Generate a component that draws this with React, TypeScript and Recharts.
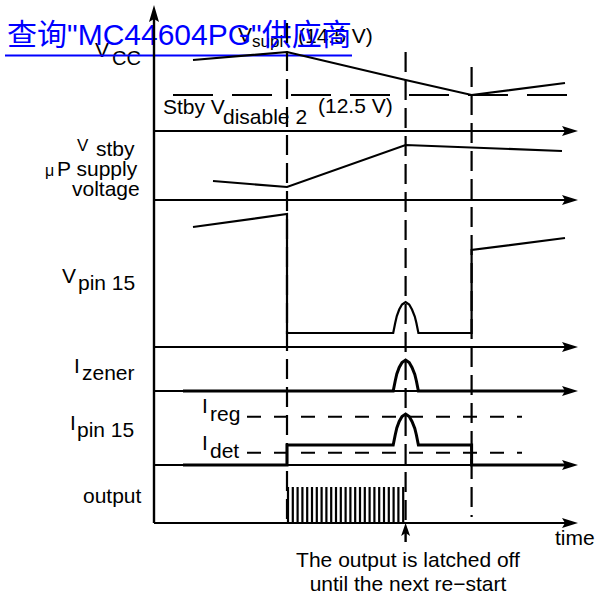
import React from "react";
import { ComposedChart, Line, XAxis, YAxis, ReferenceLine } from "recharts";

// time in arbitrary units, 0 = vertical axis
const eventTimes = [33.25, 62.9, 79.4]; // supply drop, latch-off, re-start
const dashTops = [100, 94.2, 91.2];
const dashBottoms = [0, 0, 1.2];

const rowNames = ["vcc", "vstby", "vpin", "izener", "ipin", "output"];

// VCC trace and stby threshold
const vccTimes = [9.75, 33.25, 62.9, 79.4, 102.75];
const vccLevels = [14.2, 15.8, 10.2, 7.2, 9.6];
const stbyLevel = 7.2;
const stbySpan = [4.75, 103.5];

// uP supply voltage
const vstbyTimes = [14.75, 33.25, 62.9, 102];
const vstbyLevels = [3.8, 2.6, 11, 9.8];

// pin 15 voltage (before / after the pulse)
const vpinTimesA = [9.75, 33.25, 33.25];
const vpinLevelsA = [24, 26.6, 2.8];
const vpinTimesB = [79.4, 79.4, 102.75];
const vpinLevelsB = [2.8, 19.4, 21.8];

// zener current
const izTimesA = [7.25];
const izLevelsA = [0];
const izTimesB = [103];
const izLevelsB = [0];

// pin 15 current
const ipTimesA = [7.25, 33.25, 33.25];
const ipLevelsA = [0, 0, 4];
const ipTimesB = [79.4, 79.4, 103];
const ipLevelsB = [4, 0, 0];
const iregLevel = 9.66;
const idetLevel = 2.46;
const iSpan = [23.25, 92];

// shape of the current pulse around the latch time
const pulseDt = [-3.1, -2.6, -2.2, -1.6, -0.9, 0, 0.9, 1.6, 2.3, 2.7, 3.2];
const pulseDv = [0, 2.0, 3.4, 4.7, 5.7, 6.2, 5.7, 4.7, 3.3, 2.0, 0];

// output switching edges
const outTimes = [
  33.5, 34.7, 35.9, 37.1, 38.3, 39.5, 40.7, 41.9, 43.1, 44.3, 45.5, 46.7, 47.9,
  49.1, 50.3, 51.5, 52.7, 53.9, 55.1, 56.3, 57.5, 58.7, 59.9, 61.1, 62.3,
];
const outHigh = 7.2;

// layout: row baselines
const base: Record<string, number> = {
  vcc: 78.4,
  vstby: 64.6,
  vpin: 35.2,
  izener: 26.4,
  ipin: 11.6,
  output: 0,
};
const T_END = 106;
const Y_TOP = 103.6;

const pts = (times: number[], levels: number[], b: number) =>
  times.map((t, i) => ({ t, v: b + levels[i] }));
const pulse = (at: number, floor: number, b: number) =>
  pulseDt.map((d, i) => ({ t: at + d, v: b + floor + pulseDv[i] }));

const vccData = pts(vccTimes, vccLevels, base.vcc);
const vstbyData = pts(vstbyTimes, vstbyLevels, base.vstby);
const vpinData = [
  ...pts(vpinTimesA, vpinLevelsA, base.vpin),
  ...pulse(eventTimes[1], 2.8, base.vpin),
  ...pts(vpinTimesB, vpinLevelsB, base.vpin),
];
const izData = [
  ...pts(izTimesA, izLevelsA, base.izener),
  ...pulse(eventTimes[1], 0, base.izener),
  ...pts(izTimesB, izLevelsB, base.izener),
];
const ipData = [
  ...pts(ipTimesA, ipLevelsA, base.ipin),
  ...pulse(eventTimes[1], 4, base.ipin),
  ...pts(ipTimesB, ipLevelsB, base.ipin),
];
const outData = outTimes.flatMap((t) => [
  { t, v: base.output },
  { t, v: base.output + outHigh },
  { t, v: null },
]);

const FONT = "'Liberation Sans', Arial, sans-serif";

const arrow = (head: number, half: number, width: number) => (p: any) => {
  const { x1, y1, x2, y2 } = p;
  const dx = x2 - x1;
  const dy = y2 - y1;
  const len = Math.hypot(dx, dy) || 1;
  const ux = dx / len;
  const uy = dy / len;
  const bx = x2 - ux * head;
  const by = y2 - uy * head;
  const nx = -uy * half;
  const ny = ux * half;
  return (
    <g>
      <line x1={x1} y1={y1} x2={bx + ux * 3} y2={by + uy * 3} stroke="#000" strokeWidth={width} />
      <polygon
        points={`${x2},${y2} ${bx + nx},${by + ny} ${bx + ux * 3},${by + uy * 3} ${bx - nx},${by - ny}`}
        fill="#000"
      />
    </g>
  );
};

type Lbl = { s: string; x: number; y: number; size?: number; anchor?: string };
const labels: Lbl[] = [
  { s: "V", x: 95, y: 57 },
  { s: "CC", x: 112, y: 65, size: 20 },
  { s: "V", x: 238, y: 42 },
  { s: "supl", x: 252, y: 47, size: 17 },
  { s: "(14.5 V)", x: 298, y: 43 },
  { s: "Stby V", x: 163, y: 114 },
  { s: "disable 2", x: 223, y: 124 },
  { s: "(12.5 V)", x: 318, y: 113 },
  { s: "V", x: 77, y: 151, size: 17 },
  { s: "stby", x: 96, y: 156 },
  { s: "\u03bc", x: 45, y: 176, size: 16 },
  { s: "P supply", x: 57, y: 176 },
  { s: "voltage", x: 72, y: 196 },
  { s: "V", x: 62, y: 283 },
  { s: "pin 15", x: 78, y: 290 },
  { s: "I", x: 74, y: 373 },
  { s: "zener", x: 82, y: 380 },
  { s: "I", x: 70, y: 430 },
  { s: "pin 15", x: 77, y: 437 },
  { s: "I", x: 202, y: 413 },
  { s: "reg", x: 210, y: 421 },
  { s: "I", x: 202, y: 450 },
  { s: "det", x: 210, y: 458 },
  { s: "output", x: 83, y: 503 },
  { s: "time", x: 555, y: 545 },
  { s: "The output is latched off", x: 408, y: 567, anchor: "middle" },
  { s: "until the next re\u2212start", x: 408, y: 591, anchor: "middle" },
];

const lineProps = {
  dataKey: "v",
  type: "linear" as const,
  stroke: "#000",
  strokeWidth: 2.2,
  dot: false,
  activeDot: false,
  isAnimationActive: false,
  connectNulls: false,
};

export default function App() {
  return (
    <div style={{ position: "absolute", left: 0, top: 0, width: 596, height: 597, background: "#fff" }}>
      <ComposedChart width={596} height={597} margin={{ top: 0, right: 0, bottom: 0, left: 0 }}>
        <XAxis type="number" dataKey="t" domain={[-38.5, 110.5]} allowDataOverflow hide />
        <YAxis type="number" domain={[-14.8, 104.6]} allowDataOverflow hide />

        {/* row axes */}
        {rowNames.map((r) => (
          <ReferenceLine
            key={r}
            segment={[{ x: 0, y: base[r] }, { x: T_END, y: base[r] }]}
            shape={arrow(16, 5, 2)}
          />
        ))}
        <ReferenceLine segment={[{ x: 0, y: 0 }, { x: 0, y: Y_TOP }]} shape={arrow(17, 5, 2.4)} />

        {/* event markers */}
        {eventTimes.map((t, i) => (
          <ReferenceLine
            key={"e" + i}
            segment={[{ x: t, y: dashTops[i] }, { x: t, y: dashBottoms[i] }]}
            stroke="#000"
            strokeWidth={2.2}
            strokeDasharray="20 8"
          />
        ))}

        {/* thresholds */}
        <ReferenceLine
          segment={[{ x: stbySpan[0], y: base.vcc + stbyLevel }, { x: stbySpan[1], y: base.vcc + stbyLevel }]}
          stroke="#000"
          strokeWidth={2.2}
          strokeDasharray="40 19"
        />
        <ReferenceLine
          segment={[{ x: iSpan[0], y: base.ipin + iregLevel }, { x: iSpan[1], y: base.ipin + iregLevel }]}
          stroke="#000"
          strokeWidth={2}
          strokeDasharray="14 13"
        />
        <ReferenceLine
          segment={[{ x: iSpan[0], y: base.ipin + idetLevel }, { x: iSpan[1], y: base.ipin + idetLevel }]}
          stroke="#000"
          strokeWidth={2}
          strokeDasharray="14 13"
        />

        <Line {...lineProps} data={vccData} />
        <Line {...lineProps} data={vstbyData} />
        <Line {...lineProps} data={vpinData} />
        <Line {...lineProps} data={izData} strokeWidth={3} />
        <Line {...lineProps} data={ipData} strokeWidth={3} />
        <Line {...lineProps} data={outData} strokeWidth={2.2} />

        <ReferenceLine
          segment={[{ x: eventTimes[1], y: -3.8 }, { x: eventTimes[1], y: 0 }]}
          shape={arrow(13, 4.5, 2.4)}
        />

        <g fontFamily={FONT} fill="#000">
          {labels.map((l, i) => (
            <text key={i} x={l.x} y={l.y} fontSize={l.size ?? 21} textAnchor={l.anchor ?? "start"}>
              {l.s}
            </text>
          ))}
        </g>

        <g>
          <text
            x={7}
            y={45}
            fontSize={30}
            fill="#0000ff"
            fontFamily="'Liberation Sans', Arial, 'Noto Sans CJK SC', sans-serif"
          >
            查询"MC44604PG"供应商
          </text>
          <line x1={5} y1={55.5} x2={352} y2={55.5} stroke="#0000ff" strokeWidth={2} />
        </g>
      </ComposedChart>
    </div>
  );
}
